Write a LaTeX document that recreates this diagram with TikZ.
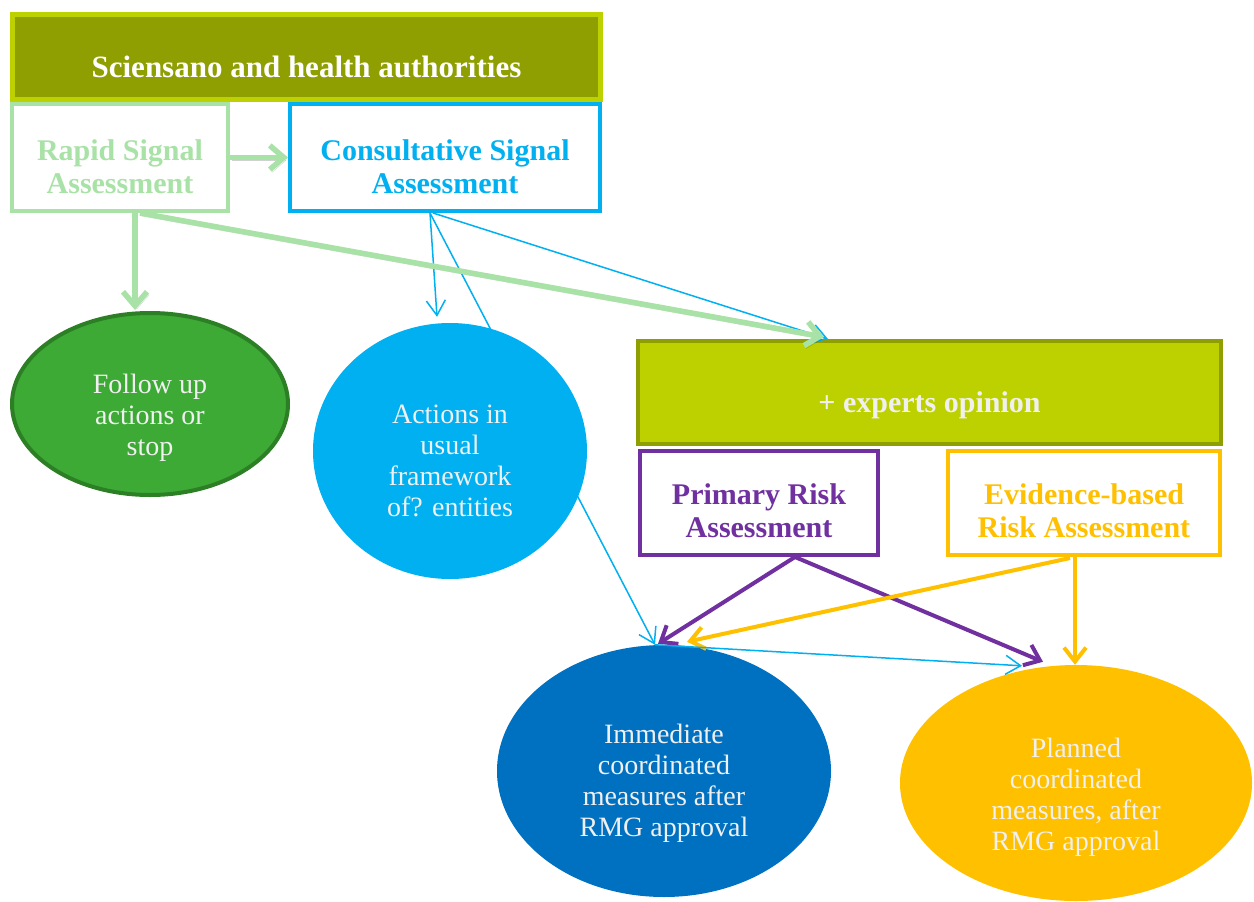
\documentclass[tikz,border=0pt]{standalone}
\usepackage{fontspec}
\setmainfont{Liberation Serif}
\usetikzlibrary{arrows.meta,shapes.geometric}

\definecolor{titlefill}{HTML}{8F9E00}
\definecolor{lime}{HTML}{BDD000}
\definecolor{rgreen}{HTML}{A9E2A6}
\definecolor{cblue}{HTML}{00B0F0}
\definecolor{fgreen}{HTML}{3DAA35}
\definecolor{fgreenedge}{HTML}{2C7F25}
\definecolor{purp}{HTML}{7030A0}
\definecolor{gold}{HTML}{FFC000}
\definecolor{dblue}{HTML}{0070C0}
\definecolor{etext}{HTML}{F0F0F0}

\pgfdeclarelayer{bg}
\pgfsetlayers{bg,main}

\begin{document}
\begin{tikzpicture}[x=1pt,y=-1pt,
  box/.style={rectangle, draw, line width=4pt, fill=white, inner sep=0pt},
  bubble/.style={ellipse, inner sep=0pt},
  lbl/.style={align=center, font=\fontsize{30}{33}\selectfont\bfseries},
  etxt/.style={align=center, text=etext, font=\fontsize{28}{31}\selectfont},
  thinarr/.style={draw=cblue, line width=1.5pt, -{Straight Barb[length=15pt,width=19pt]}},
  greenarr/.style={draw=rgreen, line width=5.5pt, -{Straight Barb[length=14pt,width=24pt]},
    preaction={draw=black, opacity=0.18, transform canvas={shift={(2pt,-3pt)}}}},
  riskarr/.style={line width=4pt, -{Straight Barb[length=14pt,width=22pt]}}
]
\useasboundingbox (0,0) rectangle (1254,902);

% signal assessment boxes
\node[box, draw=rgreen, minimum width=216pt, minimum height=107pt] (rapid) at (120,157.5) {};
\node[box, draw=cblue, minimum width=310pt, minimum height=107pt] (consult) at (445,157.5) {};
\node[rectangle, draw=lime, fill=titlefill, line width=5pt, minimum width=588pt, minimum height=85pt] (title) at (306.5,57) {};

\node[lbl, text=white] (title-t) at ([yshift=-10pt]title.center) {\fontsize{31}{34}\selectfont Sciensano and health authorities};
\node[lbl, text=rgreen] (rapid-t) at ([yshift=-9pt]rapid.center) {Rapid Signal\\Assessment};
\node[lbl, text=cblue] (consult-t) at ([yshift=-9pt]consult.center) {Consultative Signal\\Assessment};

% outcome bubbles of the signal stage
\node[bubble, draw=fgreenedge, fill=fgreen, line width=4pt, minimum width=276pt, minimum height=182pt] (follow) at (150,404) {};
\node[etxt] (follow-t) at ([yshift=-14pt]follow.center) {Follow up\\actions or\\stop};
\node[bubble, fill=cblue, minimum width=274pt, minimum height=256pt] (actions) at (450,451) {};
\node[etxt] (actions-t) at ([yshift=-10pt]actions.center) {Actions in\\usual\\framework\\of? entities};

% risk assessment boxes
\node[box, draw=purp, minimum width=238pt, minimum height=104pt] (primary) at (759,503) {};
\node[box, draw=gold, minimum width=272pt, minimum height=104pt] (evidence) at (1084,503) {};
\node[rectangle, draw=titlefill, fill=lime, line width=4pt, minimum width=583pt, minimum height=103pt] (experts) at (929.5,392.5) {};

\node[lbl, text=etext] (experts-t) at ([yshift=-13pt]experts.center) {+ experts opinion};
\node[lbl, text=purp] (primary-t) at ([yshift=-8pt]primary.center) {Primary Risk\\Assessment};
\node[lbl, text=gold] (evidence-t) at ([yshift=-8pt]evidence.center) {Evidence-based\\Risk Assessment};

% coordinated measures
\node[bubble, fill=dblue, minimum width=334pt, minimum height=252pt] (immediate) at (664,771) {};
\node[etxt] (immediate-t) at ([yshift=-12pt]immediate.center) {Immediate\\coordinated\\measures after\\RMG approval};
\node[bubble, fill=gold, minimum width=352pt, minimum height=236pt] (planned) at (1076,783) {};
\node[etxt] (planned-t) at ([yshift=-14pt]planned.center) {Planned\\coordinated\\measures, after\\RMG approval};

% connector running behind the "actions" bubble
\begin{pgfonlayer}{bg}
\draw[thinarr] ([xshift=-15pt]consult.south) -- ([xshift=-9pt]immediate.north);
\end{pgfonlayer}

% consultative signal connectors
\draw[thinarr] ([xshift=-15pt]consult.south) -- ([xshift=-13pt,yshift=6pt]actions.north);
\draw[thinarr] ([xshift=-12pt]consult.south) -- ([xshift=192pt]experts.north west);

% rapid signal connectors
\draw[greenarr] (rapid.east) -- (consult.west);
\draw[greenarr] ([xshift=15pt]rapid.south) -- ([xshift=-15pt,yshift=1pt]follow.north);
\draw[greenarr] ([xshift=20pt]rapid.south) -- ([xshift=188pt,yshift=2pt]experts.north west);

% risk assessment connectors
\draw[riskarr, draw=purp] ([xshift=36pt]primary.south) -- ([xshift=-6pt,yshift=1pt]immediate.north);
\draw[riskarr, draw=purp] ([xshift=36pt]primary.south) -- ([xshift=-33pt,yshift=3pt]planned.north);
\draw[riskarr, draw=gold] ([xshift=-14pt,yshift=-1pt]evidence.south) -- ([xshift=23pt,yshift=3pt]immediate.north);
\draw[riskarr, draw=gold] ([xshift=-9pt]evidence.south) -- ([xshift=-1pt]planned.north);
\draw[thinarr] ([xshift=-9pt]immediate.north) -- ([xshift=-54pt,yshift=-1pt]planned.north);
\end{tikzpicture}
\end{document}
